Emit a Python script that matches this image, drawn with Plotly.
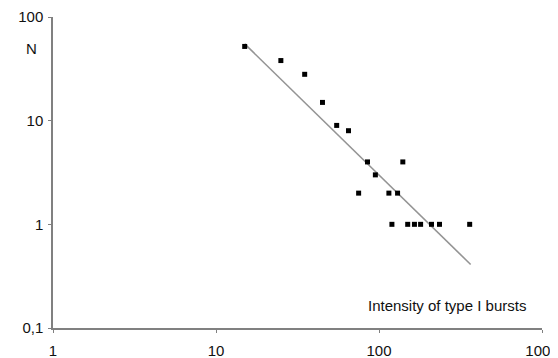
import plotly.graph_objects as go

# Data
x_points = [15, 25, 35, 45, 55, 65, 85, 140, 95, 75, 115, 130, 120, 150, 165, 180, 210, 235, 360]
y_points = [52, 38, 28, 15, 9, 8, 4, 4, 3, 2, 2, 2, 1, 1, 1, 1, 1, 1, 1]

trend_x = [15, 365]
trend_y = [55, 0.41]

x_tickvals = [1, 10, 100, 1000]
x_ticktext = ["1", "10", "100", "1000"]
y_tickvals = [0.1, 1, 10, 100]
y_ticktext = ["0,1", "1", "10", "100"]

FONT = "Liberation Sans, Arial, sans-serif"
# The page body adds an 8px offset, so the figure is laid out 8px up/left
W, H = 566, 366
L, R, T, B = 45, 32, 9, 46

fig = go.Figure()
fig.add_trace(go.Scatter(
    x=trend_x, y=trend_y, mode="lines",
    line=dict(color="#949494", width=1.6), hoverinfo="skip", showlegend=False))
fig.add_trace(go.Scatter(
    x=x_points, y=y_points, mode="markers",
    marker=dict(symbol="square", size=5, color="#000000"),
    showlegend=False))

axis_common = dict(
    type="log", showgrid=False, zeroline=False, automargin=False,
    showline=True, linecolor="#808080", linewidth=1.5,
    ticks="outside", ticklen=3, tickcolor="#808080", tickwidth=1,
    tickfont=dict(family=FONT, size=15, color="#111111"),
    mirror=False,
)
fig.update_xaxes(range=[0, 3], tickvals=x_tickvals, ticktext=x_ticktext,
                 ticklabelstandoff=5, **axis_common)
fig.update_yaxes(range=[-1, 2], tickvals=y_tickvals, ticktext=y_ticktext,
                 ticklabelstandoff=2, **axis_common)

# annotation positions in screen pixels relative to plot area (53..542, 17..328)
px0, px1, py0, py1 = 53, 542, 17, 328
pw = px1 - px0
ph = py1 - py0
fig.add_annotation(text="N", xref="paper", yref="paper",
                   x=(31 - px0) / pw, y=(py1 - 48) / ph,
                   xanchor="center", yanchor="middle",
                   showarrow=False, font=dict(family=FONT, size=15, color="#111111"))
fig.add_annotation(text="Intensity of type I bursts", xref="paper", yref="paper",
                   x=(447 - px0) / pw, y=(py1 - 305) / ph,
                   xanchor="center", yanchor="middle",
                   showarrow=False, font=dict(family=FONT, size=15, color="#111111"))

fig.update_layout(
    width=W, height=H,
    margin=dict(l=L, r=R, t=T, b=B, pad=0),
    paper_bgcolor="white", plot_bgcolor="white",
)
fig.write_html("out.html")
